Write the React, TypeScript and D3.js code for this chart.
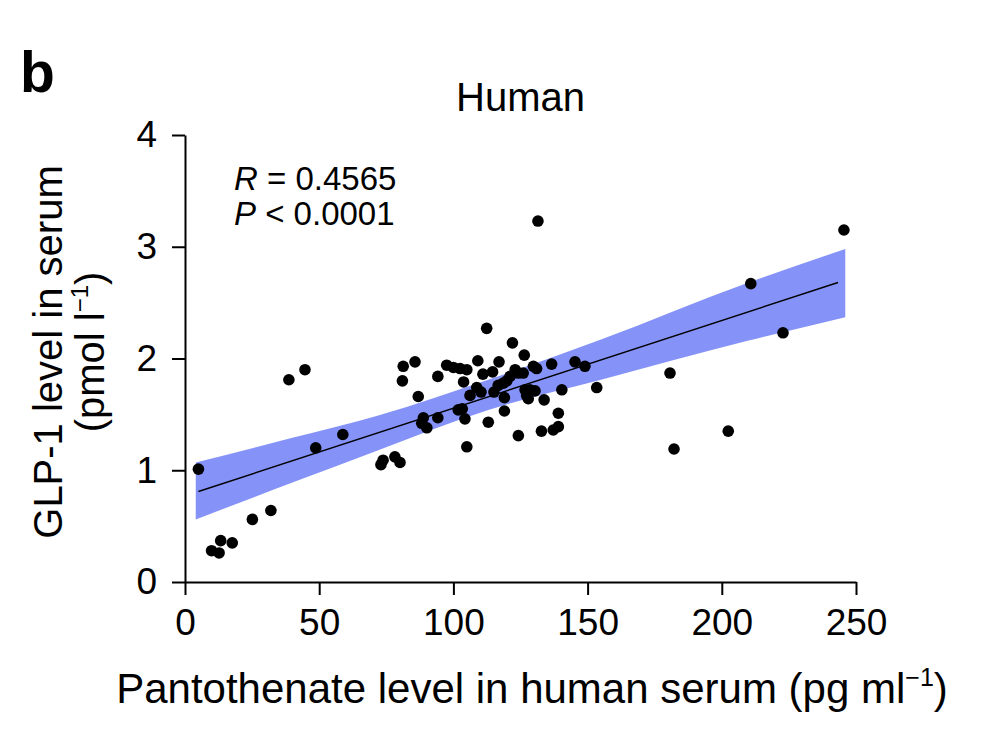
import React, { useEffect, useRef } from 'react';
import * as d3 from 'd3';

// pantothenate (pg/ml) vs GLP-1 (pmol/l)
const pantothenate = [
  5.0, 9.9, 12.7, 13.3, 17.6, 25.1, 32.0, 38.7, 44.7, 48.7,
  58.8, 73.0, 73.8, 78.2, 80.1, 81.3, 81.0, 85.7, 86.9, 88.8,
  88.2, 90.1, 94.2, 94.2, 97.5, 100.0, 102.5, 105.0, 101.8, 103.3,
  104.3, 103.8, 105.0, 106.2, 108.7, 110.3, 109.1, 111.0, 112.4, 113.0,
  114.6, 115.1, 117.0, 116.7, 118.6, 119.0, 119.0, 119.9, 121.1, 122.0,
  123.0, 124.2, 126.0, 124.2, 126.4, 126.7, 127.3, 127.9, 128.5, 130.4,
  129.8, 131.0, 131.5, 132.8, 133.8, 136.6, 137.2, 139.1, 139.1, 140.4,
  145.3, 149.0, 153.4, 180.7, 182.2, 202.4, 210.8, 222.8, 245.5,
];
const glp1 = [
  1.01, 0.28, 0.26, 0.37, 0.35, 0.56, 0.64, 1.81, 1.90, 1.20,
  1.32, 1.05, 1.09, 1.12, 1.07, 1.93, 1.80, 1.97, 1.66, 1.47,
  1.42, 1.38, 1.84, 1.47, 1.94, 1.92, 1.91, 1.90, 1.54, 1.55,
  1.46, 1.79, 1.21, 1.67, 1.74, 1.70, 1.98, 1.86, 2.27, 1.43,
  1.88, 1.70, 1.97, 1.76, 1.78, 1.65, 1.53, 1.80, 1.84, 2.14,
  1.90, 1.87, 1.87, 1.31, 2.03, 1.72, 1.67, 1.64, 1.72, 1.71,
  1.93, 1.91, 3.23, 1.35, 1.63, 1.95, 1.36, 1.39, 1.51, 1.72,
  1.97, 1.93, 1.74, 1.87, 1.19, 1.35, 2.67, 2.23, 3.15,
];

// fitted line and its confidence band
const fitX = [5, 243.3];
const fitY = [0.81, 2.68];
const bandX = [4, 40, 72, 113, 155, 210, 246];
const bandUpper = [1.07, 1.29, 1.49, 1.81, 2.17, 2.68, 2.98];
const bandLower = [0.56, 0.89, 1.18, 1.54, 1.81, 2.16, 2.37];

const xTicks = [0, 50, 100, 150, 200, 250];
const yTicks = [0, 1, 2, 3, 4];

const W = 988;
const H = 750;
const FONT = '"Liberation Sans", Arial, Helvetica, sans-serif';

export default function App() {
  const svgRef = useRef<SVGSVGElement | null>(null);

  useEffect(() => {
    if (!svgRef.current) return;
    const svg = d3.select(svgRef.current);
    svg.selectAll('*').remove();

    const x = d3.scaleLinear().domain([0, 250]).range([185, 856]);
    const y = d3.scaleLinear().domain([0, 4]).range([582, 135]);

    const g = svg.append('g').style('font-family', FONT);

    // confidence band
    const band = d3.area<number>()
      .x(d => x(bandX[d]))
      .y0(d => y(bandLower[d]))
      .y1(d => y(bandUpper[d]))
      .curve(d3.curveMonotoneX);
    g.append('path')
      .attr('d', band(d3.range(bandX.length)))
      .attr('fill', '#8593f8');

    // regression line
    const line = d3.line<number>().x(d => x(fitX[d])).y(d => y(fitY[d]));
    g.append('path')
      .attr('d', line(d3.range(fitX.length)))
      .attr('fill', 'none')
      .attr('stroke', '#000')
      .attr('stroke-width', 1.4);

    // points
    g.append('g')
      .selectAll('circle')
      .data(d3.range(pantothenate.length))
      .join('circle')
      .attr('cx', i => x(pantothenate[i]))
      .attr('cy', i => y(glp1[i]))
      .attr('r', 5.8)
      .attr('fill', '#000');

    // axes
    const xAxis = g.append('g')
      .attr('transform', `translate(0,${y(0)})`)
      .call(d3.axisBottom(x).tickValues(xTicks).tickFormat(d3.format('d')).tickSize(13).tickPadding(14).tickSizeOuter(0));
    const yAxis = g.append('g')
      .attr('transform', `translate(${x(0)},0)`)
      .call(d3.axisLeft(y).tickValues(yTicks).tickFormat(d3.format('d')).tickSize(13).tickPadding(15).tickSizeOuter(0));
    [xAxis, yAxis].forEach(a => {
      a.select('.domain').attr('stroke', '#000').attr('stroke-width', 2);
      a.selectAll('.tick line').attr('stroke', '#000').attr('stroke-width', 2);
      a.selectAll('.tick text')
        .attr('fill', '#000')
        .style('font-family', FONT)
        .style('font-size', '37px');
    });

    // titles
    g.append('text')
      .attr('x', 20).attr('y', 92)
      .style('font-size', '57px').style('font-weight', 'bold')
      .text('b');

    g.append('text')
      .attr('x', (x(0) + x(250)) / 2).attr('y', 111)
      .attr('text-anchor', 'middle')
      .style('font-size', '40px')
      .text('Human');

    const stats = g.append('g').style('font-size', '33px');
    const r = stats.append('text').attr('x', 234).attr('y', 190);
    r.append('tspan').style('font-style', 'italic').text('R');
    r.append('tspan').text(' = 0.4565');
    const p = stats.append('text').attr('x', 234).attr('y', 225);
    p.append('tspan').style('font-style', 'italic').text('P');
    p.append('tspan').text(' < 0.0001');

    const xt = g.append('text')
      .attr('x', 532).attr('y', 703)
      .attr('text-anchor', 'middle')
      .style('font-size', '42px');
    xt.append('tspan').text('Pantothenate level in human serum (pg ml');
    xt.append('tspan').attr('dy', -17).style('font-size', '25px').text('−1');
    xt.append('tspan').attr('dy', 17).text(')');

    const yt = g.append('g').attr('transform', 'translate(0,352) rotate(-90)');
    yt.append('text')
      .attr('x', 0).attr('y', 62)
      .attr('text-anchor', 'middle')
      .style('font-size', '40px')
      .text('GLP-1 level in serum');
    const yt2 = yt.append('text')
      .attr('x', 0).attr('y', 104)
      .attr('text-anchor', 'middle')
      .style('font-size', '40px');
    yt2.append('tspan').text('(pmol l');
    yt2.append('tspan').attr('dy', -16).style('font-size', '24px').text('−1');
    yt2.append('tspan').attr('dy', 16).text(')');
  }, []);

  return (
    <div style={{ position: 'absolute', left: 0, top: 0, width: W, height: H, background: '#fff' }}>
      <svg ref={svgRef} width={W} height={H} />
    </div>
  );
}
